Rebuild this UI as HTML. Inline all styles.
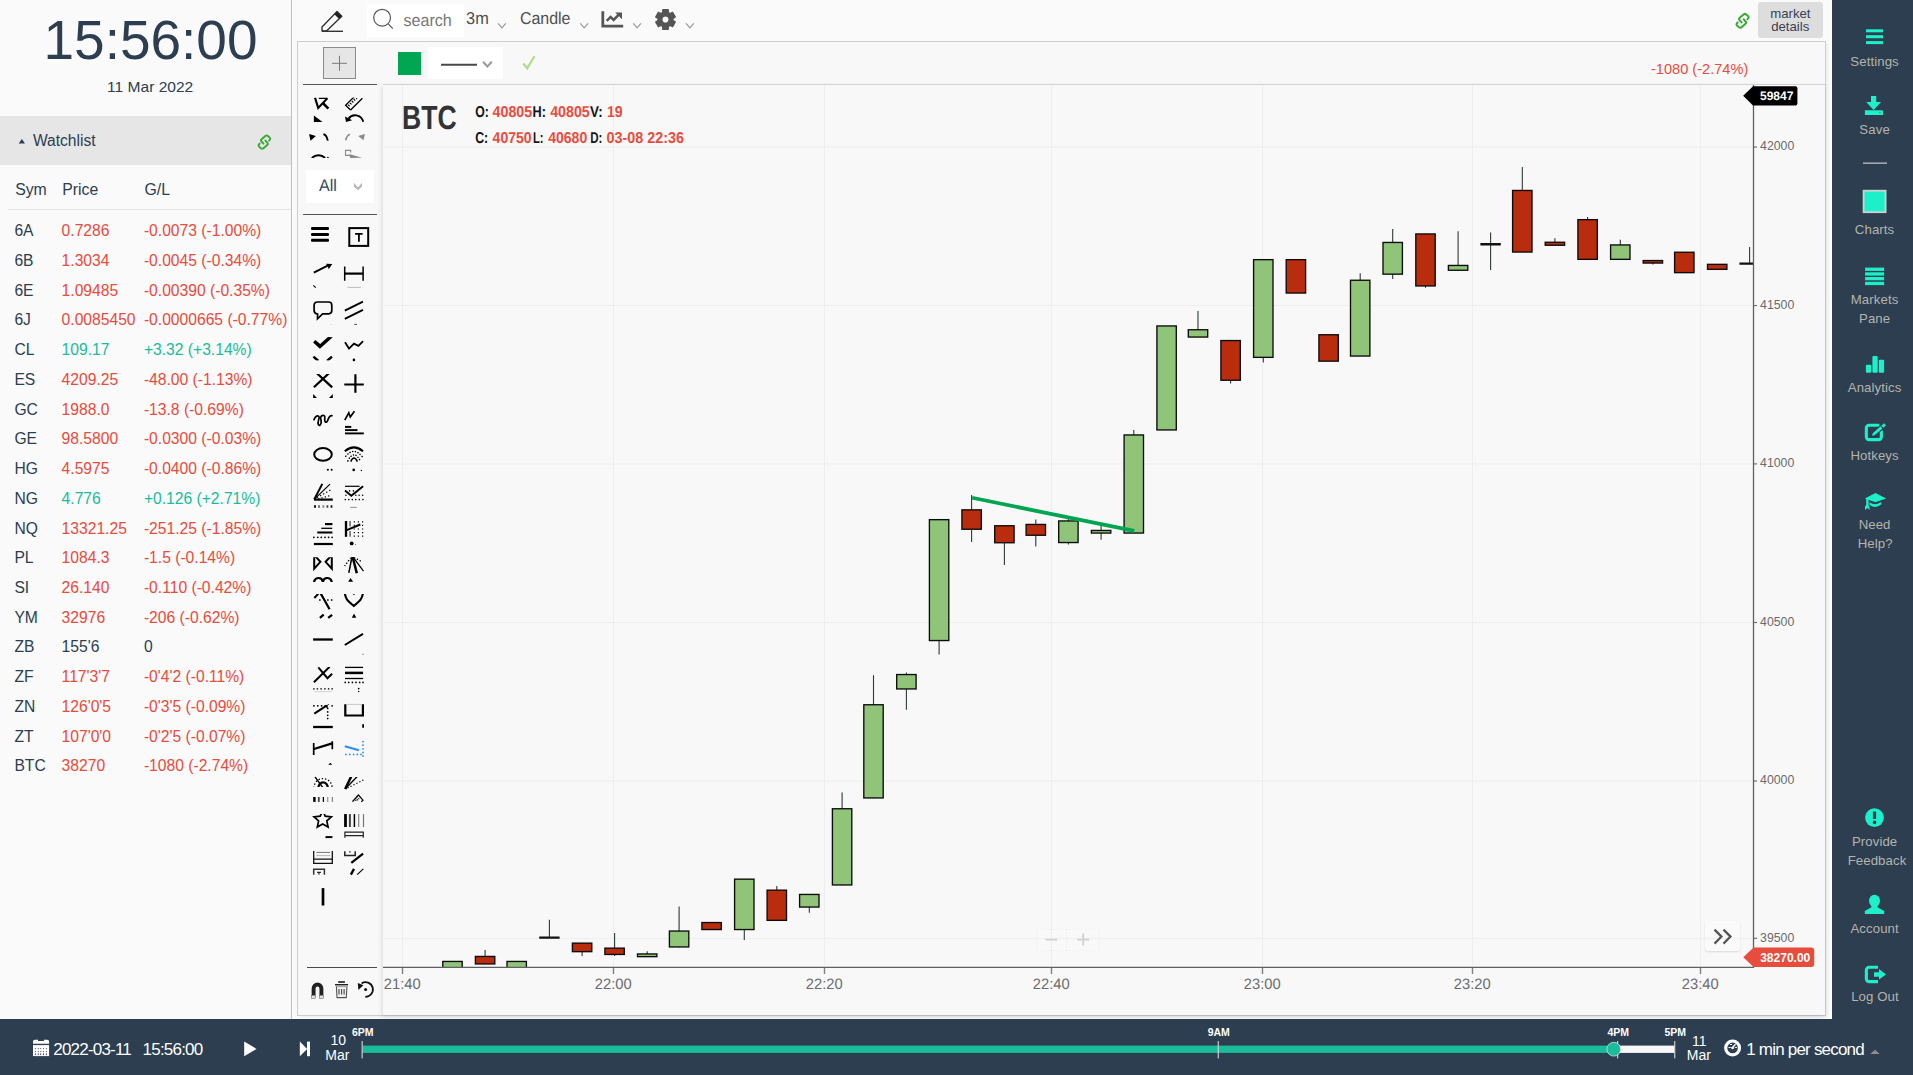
<!DOCTYPE html>
<html lang="en"><head><meta charset="utf-8"><title>Chart</title>
<style>
html,body{margin:0;padding:0;}
body{width:1913px;height:1075px;overflow:hidden;position:relative;background:#fafafa;font-family:"Liberation Sans", sans-serif;}
div{box-sizing:border-box;}
svg{position:absolute;left:0;top:0;}
</style></head><body>
<div style="position:absolute;left:0px;top:0px;width:291px;height:1019px;background:#fafafa;"></div>
<div style="position:absolute;left:291px;top:0px;width:1px;height:1019px;background:#c0c0c0;"></div>
<div style="position:absolute;left:0px;top:116px;width:291px;height:49px;background:#e6e6e6;"></div>
<div style="position:absolute;left:8px;top:209px;width:283px;height:1px;background:#e4e4e4;"></div>
<div style="position:absolute;left:367px;top:4px;width:97px;height:33px;background:#ffffff;"></div>
<div style="position:absolute;left:1758px;top:2px;width:65px;height:36px;background:#dddddd;border-radius:3px;"></div>
<div style="position:absolute;left:1830px;top:0px;width:2px;height:1019px;background:#ffffff;"></div>
<div style="position:absolute;left:292px;top:1017px;width:1540px;height:2px;background:#ffffff;"></div>
<div style="position:absolute;left:297px;top:41px;width:1529px;height:975px;background:#f8f8f8;border:1px solid #cdcdcd;box-shadow:2px 2px 3px rgba(0,0,0,0.05);"></div>
<div style="position:absolute;left:383px;top:84px;width:1442px;height:931px;background:#f8f8f8;box-shadow:-1px 2px 5px rgba(0,0,0,0.12);"></div>
<div style="position:absolute;left:383px;top:84px;width:1442px;height:1px;background:#d2d2d2;"></div>
<div style="position:absolute;left:323px;top:47px;width:33px;height:32px;background:#e6e6e6;border:1px solid #8a8a8a;"></div>
<div style="position:absolute;left:303px;top:84px;width:74px;height:1px;background:#555;"></div>
<div style="position:absolute;left:398px;top:52px;width:23px;height:23px;background:#00a651;"></div>
<div style="position:absolute;left:428px;top:47px;width:75px;height:32px;background:#ffffff;"></div>
<div style="position:absolute;left:1704.5px;top:920.5px;width:35.5px;height:30.5px;background:#fafafa;border-radius:3px;box-shadow:0 1px 2px rgba(0,0,0,0.12);"></div>
<div style="position:absolute;left:1036.5px;top:929px;width:62px;height:22px;background:rgba(250,250,250,0.7);border:1px solid #f4f4f4;"></div>
<div style="position:absolute;left:306px;top:170px;width:68px;height:33px;background:#ffffff;"></div>
<div style="position:absolute;left:303px;top:214px;width:74px;height:1px;background:#555;"></div>
<div style="position:absolute;left:307px;top:967px;width:70px;height:1px;background:#4a4a4a;"></div>
<div style="position:absolute;left:1832px;top:0px;width:81px;height:1075px;background:#2c3e50;"></div>
<div style="position:absolute;left:0px;top:1019px;width:1913px;height:56px;background:#2c3e50;"></div>
<svg width="1913" height="1075" viewBox="0 0 1913 1075" font-family='"Liberation Sans", sans-serif' text-rendering="geometricPrecision">
<path d="M18.7 143.6 L21.85 138.9 L25 143.6 Z" fill="#2c3e50"/>
<g transform="translate(264.4 142.1) scale(0.96)" fill="none" stroke="#3aaa35" stroke-width="2.0" stroke-linecap="round" stroke-linejoin="round"><path d="M4.90 -1.60 L5.80 -2.70 Q6.70 -3.80 5.40 -4.89 L3.60 -6.41 Q2.30 -7.50 1.01 -6.39 L-2.91 -3.01 Q-4.20 -1.90 -3.05 -0.65 L-1.00 1.60"/><path d="M-4.90 1.60 L-5.80 2.70 Q-6.70 3.80 -5.40 4.89 L-3.60 6.41 Q-2.30 7.50 -1.01 6.39 L2.91 3.01 Q4.20 1.90 3.05 0.65 L1.00 -1.60"/></g>
<g fill="none" stroke="#333" stroke-width="1.4" stroke-linejoin="round"><path d="M322 31 L322 27 L337 11.5 L341.8 16.3 L326.5 31 Z"/><path d="M322 31.3 H343" /></g><path d="M334.3 14.2 L337 11.5 L341.8 16.3 L339.1 19 Z" fill="#222"/>
<g fill="none" stroke="#555" stroke-width="1.2"><circle cx="382.1" cy="17.7" r="8.4"/><path d="M388.2 23.9 L392.8 28.6"/></g>
<text x="403.4" y="25.9" font-size="17" fill="#787878" textLength="48.4" lengthAdjust="spacingAndGlyphs">search</text>
<text x="466.1" y="24" font-size="17.1" fill="#4f4f4f" textLength="22.7" lengthAdjust="spacingAndGlyphs">3m</text>
<path d="M498 23.4 L501.9 27.799999999999997 L505.8 23.4" fill="none" stroke="#999" stroke-width="1.2"/>
<text x="519.9" y="24" font-size="17.1" fill="#4f4f4f" textLength="50.6" lengthAdjust="spacingAndGlyphs">Candle</text>
<path d="M580.3 23.4 L584.1999999999999 27.799999999999997 L588.0999999999999 23.4" fill="none" stroke="#999" stroke-width="1.2"/>
<g fill="none" stroke="#555"><path d="M602.8 11.3 V26.2 H623.2" stroke-width="2.8"/><path d="M606.7 20.8 L610.6 16.9 L613.6 19.9 L619.3 14.2" stroke-width="2.5"/></g><path d="M615.2 12.4 H622 V19.2 Z" fill="#555"/>
<path d="M633.2 23.4 L637.1 27.799999999999997 L641.0 23.4" fill="none" stroke="#999" stroke-width="1.2"/>
<path d="M662.54 12.50 L662.78 9.67 L668.22 9.67 L668.46 12.50 L670.08 13.44 L672.65 12.23 L675.37 16.94 L673.04 18.56 L673.04 20.44 L675.37 22.06 L672.65 26.77 L670.08 25.56 L668.46 26.50 L668.22 29.33 L662.78 29.33 L662.54 26.50 L660.92 25.56 L658.35 26.77 L655.63 22.06 L657.96 20.44 L657.96 18.56 L655.63 16.94 L658.35 12.23 L660.92 13.44 Z M669.1 19.5 A3.6 3.6 0 1 0 661.9 19.5 A3.6 3.6 0 1 0 669.1 19.5 Z" fill="#555" fill-rule="evenodd" stroke="#555" stroke-width="1.2" stroke-linejoin="round"/>
<path d="M686 23.4 L689.9 27.799999999999997 L693.8 23.4" fill="none" stroke="#999" stroke-width="1.2"/>
<g transform="translate(1742.6 20.8) scale(1.0)" fill="none" stroke="#3aaa35" stroke-width="2.0" stroke-linecap="round" stroke-linejoin="round"><path d="M4.90 -1.60 L5.80 -2.70 Q6.70 -3.80 5.40 -4.89 L3.60 -6.41 Q2.30 -7.50 1.01 -6.39 L-2.91 -3.01 Q-4.20 -1.90 -3.05 -0.65 L-1.00 1.60"/><path d="M-4.90 1.60 L-5.80 2.70 Q-6.70 3.80 -5.40 4.89 L-3.60 6.41 Q-2.30 7.50 -1.01 6.39 L2.91 3.01 Q4.20 1.90 3.05 0.65 L1.00 -1.60"/></g>
<path d="M339.5 55.8 V70.8 M332 63.3 H347" stroke="#7a7a7a" stroke-width="1" fill="none"/>
<path d="M441 64.8 H477" stroke="#484848" stroke-width="2.1"/>
<path d="M483 61.7 L487.4 66.5 L491.8 61.7" fill="none" stroke="#999" stroke-width="2.0"/>
<path d="M523.3 63.5 L527.2 68.3 L534.4 56.2" fill="none" stroke="#b0dd8b" stroke-width="2.2"/>
<g stroke="#eeeeee" stroke-width="1"><path d="M402.5 85 V967" shape-rendering="crispEdges"/><path d="M613.5 85 V967" shape-rendering="crispEdges"/><path d="M824.5 85 V967" shape-rendering="crispEdges"/><path d="M1051.5 85 V967" shape-rendering="crispEdges"/><path d="M1262.5 85 V967" shape-rendering="crispEdges"/><path d="M1472.5 85 V967" shape-rendering="crispEdges"/><path d="M1700.5 85 V967" shape-rendering="crispEdges"/><path d="M383 147.05 H1753"/><path d="M383 305.55 H1753"/><path d="M383 463.9 H1753"/><path d="M383 622.5 H1753"/><path d="M383 781.0 H1753"/><path d="M383 938.35 H1753"/></g>
<defs><clipPath id="plot"><rect x="383" y="85" width="1370.5" height="882.5"/></clipPath></defs><g clip-path="url(#plot)"><rect x="442.80" y="961.45" width="19.4" height="8.30" fill="#8fc479" stroke="#0c0c0c" stroke-width="1.35"/><path d="M485.1 949.9 V964.2" stroke="#2e3a33" stroke-width="1.1"/><rect x="475.40" y="956.45" width="19.4" height="7.50" fill="#b92c0e" stroke="#0c0c0c" stroke-width="1.35"/><rect x="507.00" y="961.45" width="19.4" height="8.30" fill="#8fc479" stroke="#0c0c0c" stroke-width="1.35"/><path d="M549.4 919.8 V937.6" stroke="#2e3a33" stroke-width="1.1"/><path d="M539.2 937.6 H559.6" stroke="#111" stroke-width="2.4"/><path d="M582.1 942.9 V955.9" stroke="#2e3a33" stroke-width="1.1"/><rect x="572.40" y="943.15" width="19.4" height="8.50" fill="#b92c0e" stroke="#0c0c0c" stroke-width="1.35"/><path d="M614.6 933.1 V956.0" stroke="#2e3a33" stroke-width="1.1"/><rect x="604.90" y="948.15" width="19.4" height="6.30" fill="#b92c0e" stroke="#0c0c0c" stroke-width="1.35"/><path d="M647.2 951.2 V956.9" stroke="#2e3a33" stroke-width="1.1"/><rect x="637.50" y="953.95" width="19.4" height="2.70" fill="#8fc479" stroke="#0c0c0c" stroke-width="1.35"/><path d="M679.1 906.5 V947.2" stroke="#2e3a33" stroke-width="1.1"/><rect x="669.40" y="931.05" width="19.4" height="15.90" fill="#8fc479" stroke="#0c0c0c" stroke-width="1.35"/><rect x="701.90" y="922.55" width="19.4" height="7.00" fill="#b92c0e" stroke="#0c0c0c" stroke-width="1.35"/><path d="M744.3 878.9 V939.9" stroke="#2e3a33" stroke-width="1.1"/><rect x="734.60" y="879.15" width="19.4" height="50.40" fill="#8fc479" stroke="#0c0c0c" stroke-width="1.35"/><path d="M776.8 885.9 V920.6" stroke="#2e3a33" stroke-width="1.1"/><rect x="767.10" y="890.15" width="19.4" height="30.20" fill="#b92c0e" stroke="#0c0c0c" stroke-width="1.35"/><path d="M809.3 894.2 V912.8" stroke="#2e3a33" stroke-width="1.1"/><rect x="799.60" y="894.45" width="19.4" height="12.60" fill="#8fc479" stroke="#0c0c0c" stroke-width="1.35"/><path d="M842.1 792.5 V885.2" stroke="#2e3a33" stroke-width="1.1"/><rect x="832.40" y="808.75" width="19.4" height="76.20" fill="#8fc479" stroke="#0c0c0c" stroke-width="1.35"/><path d="M873.5 675.2 V798.2" stroke="#2e3a33" stroke-width="1.1"/><rect x="863.80" y="704.75" width="19.4" height="93.20" fill="#8fc479" stroke="#0c0c0c" stroke-width="1.35"/><path d="M906.4 672.6 V709.8" stroke="#2e3a33" stroke-width="1.1"/><rect x="896.70" y="674.55" width="19.4" height="14.40" fill="#8fc479" stroke="#0c0c0c" stroke-width="1.35"/><path d="M939.1 519.4 V654.6" stroke="#2e3a33" stroke-width="1.1"/><rect x="929.40" y="519.65" width="19.4" height="120.90" fill="#8fc479" stroke="#0c0c0c" stroke-width="1.35"/><path d="M971.6 495.1 V542.0" stroke="#2e3a33" stroke-width="1.1"/><rect x="961.90" y="509.85" width="19.4" height="19.40" fill="#b92c0e" stroke="#0c0c0c" stroke-width="1.35"/><path d="M1004.4 525.5 V564.9" stroke="#2e3a33" stroke-width="1.1"/><rect x="994.70" y="525.75" width="19.4" height="17.00" fill="#b92c0e" stroke="#0c0c0c" stroke-width="1.35"/><path d="M1035.8 519.4 V546.6" stroke="#2e3a33" stroke-width="1.1"/><rect x="1026.10" y="524.45" width="19.4" height="10.80" fill="#b92c0e" stroke="#0c0c0c" stroke-width="1.35"/><path d="M1068.4 515.9 V544.6" stroke="#2e3a33" stroke-width="1.1"/><rect x="1058.70" y="520.95" width="19.4" height="21.60" fill="#8fc479" stroke="#0c0c0c" stroke-width="1.35"/><path d="M1101.1 525.2 V539.8" stroke="#2e3a33" stroke-width="1.1"/><rect x="1091.40" y="530.45" width="19.4" height="2.60" fill="#8fc479" stroke="#0c0c0c" stroke-width="1.35"/><path d="M1133.8 430.0 V533.3" stroke="#2e3a33" stroke-width="1.1"/><rect x="1124.10" y="434.95" width="19.4" height="98.10" fill="#8fc479" stroke="#0c0c0c" stroke-width="1.35"/><rect x="1156.90" y="325.95" width="19.4" height="104.00" fill="#8fc479" stroke="#0c0c0c" stroke-width="1.35"/><path d="M1198.0 311.1 V337.3" stroke="#2e3a33" stroke-width="1.1"/><rect x="1188.30" y="329.75" width="19.4" height="7.30" fill="#8fc479" stroke="#0c0c0c" stroke-width="1.35"/><path d="M1230.6 340.3 V383.5" stroke="#2e3a33" stroke-width="1.1"/><rect x="1220.90" y="340.55" width="19.4" height="39.70" fill="#b92c0e" stroke="#0c0c0c" stroke-width="1.35"/><path d="M1263.3 259.4 V362.6" stroke="#2e3a33" stroke-width="1.1"/><rect x="1253.60" y="259.65" width="19.4" height="97.70" fill="#8fc479" stroke="#0c0c0c" stroke-width="1.35"/><rect x="1286.20" y="259.65" width="19.4" height="33.40" fill="#b92c0e" stroke="#0c0c0c" stroke-width="1.35"/><rect x="1318.90" y="334.75" width="19.4" height="26.40" fill="#b92c0e" stroke="#0c0c0c" stroke-width="1.35"/><path d="M1360.2 273.2 V356.3" stroke="#2e3a33" stroke-width="1.1"/><rect x="1350.50" y="280.25" width="19.4" height="75.80" fill="#8fc479" stroke="#0c0c0c" stroke-width="1.35"/><path d="M1392.7 228.9 V278.9" stroke="#2e3a33" stroke-width="1.1"/><rect x="1383.00" y="242.45" width="19.4" height="31.70" fill="#8fc479" stroke="#0c0c0c" stroke-width="1.35"/><path d="M1425.5 233.7 V287.8" stroke="#2e3a33" stroke-width="1.1"/><rect x="1415.80" y="233.95" width="19.4" height="52.00" fill="#b92c0e" stroke="#0c0c0c" stroke-width="1.35"/><path d="M1458.1 231.2 V270.5" stroke="#2e3a33" stroke-width="1.1"/><rect x="1448.40" y="265.45" width="19.4" height="4.80" fill="#8fc479" stroke="#0c0c0c" stroke-width="1.35"/><path d="M1490.6 232.4 V269.9" stroke="#2e3a33" stroke-width="1.1"/><path d="M1480.4 244.2 H1500.8" stroke="#111" stroke-width="2.4"/><path d="M1522.3 166.9 V252.3" stroke="#2e3a33" stroke-width="1.1"/><rect x="1512.60" y="190.45" width="19.4" height="61.60" fill="#b92c0e" stroke="#0c0c0c" stroke-width="1.35"/><path d="M1554.9 238.3 V245.5" stroke="#2e3a33" stroke-width="1.1"/><rect x="1545.20" y="242.25" width="19.4" height="3.00" fill="#b92c0e" stroke="#0c0c0c" stroke-width="1.35"/><path d="M1587.6 216.9 V259.6" stroke="#2e3a33" stroke-width="1.1"/><rect x="1577.90" y="219.65" width="19.4" height="39.70" fill="#b92c0e" stroke="#0c0c0c" stroke-width="1.35"/><path d="M1620.3 239.7 V259.6" stroke="#2e3a33" stroke-width="1.1"/><rect x="1610.60" y="244.95" width="19.4" height="14.40" fill="#8fc479" stroke="#0c0c0c" stroke-width="1.35"/><path d="M1652.9 260.3 V264.6" stroke="#2e3a33" stroke-width="1.1"/><rect x="1643.20" y="260.55" width="19.4" height="2.50" fill="#b92c0e" stroke="#0c0c0c" stroke-width="1.35"/><rect x="1674.60" y="252.25" width="19.4" height="20.40" fill="#b92c0e" stroke="#0c0c0c" stroke-width="1.35"/><rect x="1707.50" y="264.35" width="19.4" height="5.00" fill="#b92c0e" stroke="#0c0c0c" stroke-width="1.35"/><path d="M1749.6 247.0 V263.6" stroke="#2e3a33" stroke-width="1.1"/><path d="M1739.4 263.6 H1759.8" stroke="#111" stroke-width="2.4"/></g>
<path d="M972.1 497.8 L1134.3 530.85" stroke="#00a551" stroke-width="3.7" fill="none"/>
<g stroke="#606060" stroke-width="1.3" fill="none"><path d="M383 967.4 H1753.5"/><path d="M1753.5 85 V968"/></g><g stroke="#808080" stroke-width="1.4" fill="none"><path d="M402.5 968 V974"/><path d="M613.5 968 V974"/><path d="M824.5 968 V974"/><path d="M1051.5 968 V974"/><path d="M1262.5 968 V974"/><path d="M1472.5 968 V974"/><path d="M1700.5 968 V974"/></g><g stroke="#707070" stroke-width="1.2" fill="none"><path d="M1754 147.05 H1757"/><path d="M1754 305.55 H1757"/><path d="M1754 463.9 H1757"/><path d="M1754 622.5 H1757"/><path d="M1754 781.0 H1757"/><path d="M1754 938.35 H1757"/></g>
<text x="383.8" y="988.9" font-size="15.1" fill="#6c6c6c" textLength="36.9" lengthAdjust="spacingAndGlyphs">21:40</text>
<text x="594.8" y="988.9" font-size="15.1" fill="#6c6c6c" textLength="36.9" lengthAdjust="spacingAndGlyphs">22:00</text>
<text x="805.8" y="988.9" font-size="15.1" fill="#6c6c6c" textLength="36.9" lengthAdjust="spacingAndGlyphs">22:20</text>
<text x="1032.8" y="988.9" font-size="15.1" fill="#6c6c6c" textLength="36.9" lengthAdjust="spacingAndGlyphs">22:40</text>
<text x="1243.8" y="988.9" font-size="15.1" fill="#6c6c6c" textLength="36.9" lengthAdjust="spacingAndGlyphs">23:00</text>
<text x="1453.8" y="988.9" font-size="15.1" fill="#6c6c6c" textLength="36.9" lengthAdjust="spacingAndGlyphs">23:20</text>
<text x="1681.8" y="988.9" font-size="15.1" fill="#6c6c6c" textLength="36.9" lengthAdjust="spacingAndGlyphs">23:40</text>
<path d="M1743.2 95.7 L1753 86.2 H1795.4 a2 2 0 0 1 2 2 V103.4 a2 2 0 0 1 -2 2 H1753 Z" fill="#000"/>
<text x="1760" y="100.2" font-size="12.2" font-weight="bold" fill="#fff" textLength="33.4" lengthAdjust="spacingAndGlyphs">59847</text>
<path d="M1743.3 957.2 L1753.6 947.5 H1811.2 a3 3 0 0 1 3 3 V963.9 a3 3 0 0 1 -3 3 H1753.6 Z" fill="#e74c3c"/>
<path d="M1714.5 929.6 L1721.5 936.6 L1714.5 943.6 M1723.5 929.6 L1730.5 936.6 L1723.5 943.6" fill="none" stroke="#555" stroke-width="2.2"/>
<path d="M1045.4 939.6 H1057.3 M1077.2 939.6 H1089.3 M1083.2 933.6 V945.6" stroke="#d2d2d2" stroke-width="1.9" fill="none"/><path d="M1066.5 930 V950" stroke="#f3f3f3" stroke-width="1"/>
<text x="402.0" y="128.5" font-size="33.5" font-weight="bold" fill="#333" textLength="54.6" lengthAdjust="spacingAndGlyphs">BTC</text>
<text x="475.2" y="116.6" font-size="15.8" font-weight="bold" fill="#151515" textLength="13.6" lengthAdjust="spacingAndGlyphs">O:</text>
<text x="492.6" y="116.6" font-size="15.8" font-weight="bold" fill="#e74c3c" textLength="39.6" lengthAdjust="spacingAndGlyphs">40805</text>
<text x="532.6" y="116.6" font-size="15.8" font-weight="bold" fill="#151515" textLength="13.4" lengthAdjust="spacingAndGlyphs">H:</text>
<text x="550.2" y="116.6" font-size="15.8" font-weight="bold" fill="#e74c3c" textLength="39.6" lengthAdjust="spacingAndGlyphs">40805</text>
<text x="590.1" y="116.6" font-size="15.8" font-weight="bold" fill="#151515" textLength="12.7" lengthAdjust="spacingAndGlyphs">V:</text>
<text x="607.0" y="116.6" font-size="15.8" font-weight="bold" fill="#e74c3c" textLength="15.7" lengthAdjust="spacingAndGlyphs">19</text>
<text x="475.2" y="142.8" font-size="15.8" font-weight="bold" fill="#151515" textLength="13.0" lengthAdjust="spacingAndGlyphs">C:</text>
<text x="492.6" y="142.8" font-size="15.8" font-weight="bold" fill="#e74c3c" textLength="39.0" lengthAdjust="spacingAndGlyphs">40750</text>
<text x="532.9" y="142.8" font-size="15.8" font-weight="bold" fill="#151515" textLength="10.5" lengthAdjust="spacingAndGlyphs">L:</text>
<text x="548.2" y="142.8" font-size="15.8" font-weight="bold" fill="#e74c3c" textLength="39.0" lengthAdjust="spacingAndGlyphs">40680</text>
<text x="590.2" y="142.8" font-size="15.8" font-weight="bold" fill="#151515" textLength="12.2" lengthAdjust="spacingAndGlyphs">D:</text>
<text x="606.6" y="142.8" font-size="15.8" font-weight="bold" fill="#e74c3c" textLength="77.4" lengthAdjust="spacingAndGlyphs">03-08 22:36</text>
<text x="318.9" y="190.9" font-size="16.8" fill="#34495e" textLength="17.9" lengthAdjust="spacingAndGlyphs">All</text>
<path d="M353.9 182.8 L358 187.6 L362 182.8 V186.5 L358 190.2 L353.9 186.5 Z" fill="#b4b4b4"/>
<defs><clipPath id="tsc"><rect x="300" y="97.6" width="80" height="60.3"/></clipPath></defs><g clip-path="url(#tsc)">
<path d="M315 97.6 L318.2 108 L327.3 98.4" fill="none" stroke="#000" stroke-width="2.1" />
<path d="M318.8 98.3 H327.6" fill="none" stroke="#000" stroke-width="1.5" />
<path d="M322.8 103 L328.4 108.6" fill="none" stroke="#000" stroke-width="2.5" />
<path d="M350.6 110 L362.4 98.3 M350.6 110 L345.6 105.2 L354.2 96.8" fill="none" stroke="#000" stroke-width="1.3" />
<path d="M348 104.6 L349.6 106.2 M349.9 102.8 L351.5 104.4 M351.8 100.9 L353.4 102.5 M353.7 99 L355.3 100.6" fill="none" stroke="#000" stroke-width="1.1" />
<circle cx="356.6" cy="98.6" r="0.7" fill="#000"/>
<path d="M313.9 115.6 V121.9 H322.5 Z" fill="#000"/>
<path d="M363.3 121.8 C361 114.5 352.5 113.2 348.6 118.6" fill="none" stroke="#000" stroke-width="1.9" />
<path d="M345 116.6 L346 122 L352.2 120.2 Z" fill="#000"/>
<path d="M309.1 134 L315.9 136.1 L310.5 140.8 Z" fill="#000"/>
<path d="M323.4 134.3 C326 134.6 327 137 327.8 140.6" fill="none" stroke="#000" stroke-width="1.9" />
<path d="M349.9 134.3 C347.3 135.2 346.3 137.6 345.7 140.3" fill="none" stroke="#8a8a8a" stroke-width="1.7" />
<path d="M358.2 136.1 L364.9 134 L363.5 140.2 Z" fill="#8a8a8a"/>
<path d="M311.9 158 C315.5 154.4 321.5 154.4 325.1 158" fill="none" stroke="#000" stroke-width="2.1" />
<circle cx="327.9" cy="157.6" r="0.8" fill="#000"/>
<path d="M349.8 155.4 H345.5 V150.4 H350.7 V152.6" fill="none" stroke="#8a8a8a" stroke-width="1.1" />
<path d="M349.2 153.9 L362.1 157.8 L350.2 157.9 Z" fill="#8a8a8a"/>
</g>
<rect x="311" y="226.9" width="18" height="3" rx="1.2" fill="#000"/>
<rect x="311" y="232.9" width="18" height="3" rx="1.2" fill="#000"/>
<rect x="311" y="238.8" width="18" height="3" rx="1.2" fill="#000"/>
<rect x="349.3" y="228.1" width="18.9" height="17.8" fill="none" stroke="#000" stroke-width="2"/>
<path d="M355.1 232.9 H362.6 V234.7 H359.8 V241.7 H358 V234.7 H355.1 Z" fill="#000"/>
<path d="M313.8 272.6 L328.2 265.3" fill="none" stroke="#000" stroke-width="2" />
<path d="M326 263.8 L332.3 264.1 L328.7 269.2 L327.9 266.6 Z" fill="#000"/>
<path d="M313.3 285.4 L315.8 287.6" fill="none" stroke="#000" stroke-width="1.2" />
<path d="M344.7 266.5 V280.8 M363.1 266.5 V280.8" fill="none" stroke="#000" stroke-width="1.5" />
<path d="M344.7 273.6 H363.1" fill="none" stroke="#000" stroke-width="2.2" />
<path d="M347.4 287.4 H360.7" fill="none" stroke="#b5b5b5" stroke-width="0.9" />
<path d="M317.6 314 C315 313.6 314.1 312 314.1 310.4 V305.2 a3.2 3.2 0 0 1 3.2 -3.2 H328.6 a3.2 3.2 0 0 1 3.2 3.2 V310.6 a3.2 3.2 0 0 1 -3.2 3.2 H322.6 L317.5 318.8 Z" fill="none" stroke="#000" stroke-width="1.7" stroke-linejoin="miter"/>
<path d="M344.8 310.6 L363 301.6 M344.8 318.8 L363 309.8" fill="none" stroke="#000" stroke-width="1.9" />
<path d="M354.3 324.4 H357" fill="none" stroke="#333" stroke-width="0.9" />
<circle cx="331.4" cy="324.4" r="0.5" fill="#bbb"/>
<path d="M315.3 339.9 L320.2 344 L327.9 337.1 L332.8 337.3 L319.9 348.7 L313.1 342.4 Z" fill="#000"/>
<path d="M313.4 356.6 L318.4 361 M332 356.6 L327 361" fill="none" stroke="#000" stroke-width="2.4" />
<rect x="310" y="360.4" width="26" height="3" fill="#fafafa"/>
<path d="M345 342.2 L349 348.6 L354 343.7 L358.4 345.8 L363.1 341.2" fill="none" stroke="#000" stroke-width="1.8" />
<circle cx="353.9" cy="359.9" r="1.3" fill="#000"/>
<defs><clipPath id="cx1"><rect x="310" y="374.1" width="26" height="16"/></clipPath></defs>
<path d="M316 372.4 L332.2 387.4 M329.8 372.4 L313.9 387.2" fill="none" stroke="#000" stroke-width="2.2" clip-path="url(#cx1)"/>
<path d="M313.1 394 V397.9 H317 Z" fill="#000"/>
<path d="M332.8 394 V397.9 H329 Z" fill="#000"/>
<path d="M355.4 374.2 V392.7 M344.3 384.5 H363.8" fill="none" stroke="#000" stroke-width="2.2" />
<path d="M313.8 420.4 C314.6 417 316.8 415.4 318.6 416.2 C320.4 417 317.2 421.6 318.2 424.2 C319.2 426.6 321.2 424.6 321.2 422 C321.2 419.4 319.6 417.6 321.4 416 C323.2 414.6 325.2 415.6 324.8 418 C324.4 420.6 325 422.6 326.4 422.2 C328 421.6 328.2 417.4 330 416.2 C331 415.6 332 415.6 332.6 415.9" fill="none" stroke="#000" stroke-width="1.7" />
<path d="M344.8 420.1 L348.8 412.8 L350.3 417 L354.4 411.2" fill="none" stroke="#000" stroke-width="1.7" />
<path d="M345 426.9 H351.3" fill="none" stroke="#000" stroke-width="2" />
<path d="M345 430.1 H357.5" fill="none" stroke="#000" stroke-width="1.9" />
<path d="M345 433.4 H363.8" fill="none" stroke="#000" stroke-width="1.9" />
<ellipse cx="323" cy="454.4" rx="8.8" ry="6.3" fill="none" stroke="#000" stroke-width="2"/>
<circle cx="327.9" cy="469.7" r="1.0" fill="#000"/><circle cx="331.7" cy="469.7" r="1.0" fill="#000"/>
<path d="M344.8 451.2 Q354 443.6 363 451.2" fill="none" stroke="#000" stroke-width="2.1" />
<path d="M345.4 456.8 Q354 445.8 362.6 457.2" fill="none" stroke="#000" stroke-width="1.3" stroke-dasharray="1.4 1.4"/>
<path d="M347.5 461.6 Q354 448 360.6 461.6" fill="none" stroke="#000" stroke-width="1.3" stroke-dasharray="1.4 1.4"/>
<path d="M350.7 461.6 Q354 454.6 357.4 461.6" fill="none" stroke="#000" stroke-width="1.5" />
<circle cx="353.7" cy="469.9" r="1.3" fill="#000"/>
<circle cx="361.4" cy="470.5" r="0.7" fill="#000"/>
<path d="M314 499.6 H332.8" fill="none" stroke="#000" stroke-width="2.2" />
<path d="M314.2 499.4 L322.3 483.9" fill="none" stroke="#000" stroke-width="2.0" />
<path d="M315 498.6 L330 484.1" fill="none" stroke="#000" stroke-width="1.2" />
<path d="M317 497.6 L331.7 489.4" fill="none" stroke="#000" stroke-width="1.2" stroke-dasharray="1.3 2.2"/>
<path d="M318 499 L330.7 495.4" fill="none" stroke="#000" stroke-width="1.2" stroke-dasharray="1.3 2.2"/>
<rect x="314.1" y="505.2" width="1.8" height="2.6" fill="#000" opacity="1"/>
<rect x="318.1" y="505.2" width="1.8" height="2.6" fill="#000" opacity="0.6"/>
<rect x="322.5" y="505.2" width="1.8" height="2.6" fill="#000" opacity="0.45"/>
<rect x="326.5" y="505.2" width="1.8" height="2.6" fill="#000" opacity="0.7"/>
<rect x="330.6" y="505.2" width="1.8" height="2.6" fill="#000" opacity="0.9"/>
<path d="M345 486.3 H359.6" fill="none" stroke="#000" stroke-width="1.2" />
<path d="M345 490.5 L351.3 495.7 L363.1 486.3" fill="none" stroke="#000" stroke-width="2.0" />
<circle cx="349.6" cy="490.9" r="0.8" fill="#000"/><circle cx="353.4" cy="490.9" r="0.8" fill="#000"/><circle cx="345.9" cy="495.2" r="0.8" fill="#000"/><circle cx="355.8" cy="495.2" r="0.8" fill="#000"/><circle cx="359.1" cy="495.2" r="0.8" fill="#000"/><circle cx="362.6" cy="495.2" r="0.8" fill="#000"/><circle cx="345.3" cy="499.6" r="0.8" fill="#000"/><circle cx="348.8" cy="499.6" r="0.8" fill="#000"/><circle cx="352.3" cy="499.6" r="0.8" fill="#000"/><circle cx="355.8" cy="499.6" r="0.8" fill="#000"/><circle cx="359.3" cy="499.6" r="0.8" fill="#000"/><circle cx="362.9" cy="499.6" r="0.8" fill="#000"/>
<path d="M350.2 507.4 H356.8" fill="none" stroke="#888" stroke-width="0.9" />
<path d="M325 524.1 H332.4" fill="none" stroke="#000" stroke-width="2.2" />
<path d="M321.3 528.3 H332.2" fill="none" stroke="#000" stroke-width="1.3" />
<path d="M317.3 532.5 H332.4" fill="none" stroke="#000" stroke-width="2.0" />
<circle cx="313.9" cy="537.3" r="0.9" fill="#000"/><circle cx="317.8" cy="537.3" r="0.9" fill="#000"/><circle cx="321.3" cy="537.3" r="0.9" fill="#000"/><circle cx="325" cy="537.3" r="0.9" fill="#000"/><circle cx="328.6" cy="537.3" r="0.9" fill="#000"/><circle cx="332.1" cy="537.3" r="0.9" fill="#000"/>
<path d="M313.9 544 H332.8" fill="none" stroke="#000" stroke-width="2.2" />
<path d="M346 521 V536.8" fill="none" stroke="#000" stroke-width="2.3" />
<path d="M350.1 521 V526.5 M350.1 531 V536.8" fill="none" stroke="#666" stroke-width="1.5" />
<path d="M346.7 530.1 L360.3 524.5" fill="none" stroke="#000" stroke-width="2.1" />
<path d="M354.3 521.2 V537 M358.4 521.2 V537 M362.6 521.2 V537" fill="none" stroke="#000" stroke-width="1.2" stroke-dasharray="1.2 2.4"/>
<circle cx="351.7" cy="543.4" r="1.9" fill="#000"/>
<circle cx="355.6" cy="544.4" r="0.5" fill="#555"/>
<defs><clipPath id="cx2"><rect x="310" y="557.2" width="60" height="20"/></clipPath></defs>
<path d="M314.2 555 V568.6 L320.4 561.8 L314.2 555 M331.8 555 V568.6 L325.6 561.8 L331.8 555" fill="none" stroke="#000" stroke-width="2.0" clip-path="url(#cx2)"/>
<g clip-path="url(#cx2)">
<path d="M352 556.8 L348.8 572.9" fill="none" stroke="#000" stroke-width="1.5" />
<path d="M352.6 556.8 L356.8 573.3" fill="none" stroke="#000" stroke-width="2.5" />
<path d="M353 557 L363.5 571.2" fill="none" stroke="#000" stroke-width="1.3" />
<path d="M351 557.6 L344.6 566" fill="none" stroke="#000" stroke-width="1.3" stroke-dasharray="1.4 1.8"/>
<path d="M354 557.4 L362.4 562" fill="none" stroke="#000" stroke-width="1.3" stroke-dasharray="1.4 1.8"/>
</g>
<defs><clipPath id="cx3"><rect x="310" y="576" width="60" height="5.9"/></clipPath></defs>
<path d="M313.9 583 C314.4 576.6 321.6 576.6 322.9 581.6 C324.2 576.6 331.4 576.6 331.9 583" fill="none" stroke="#000" stroke-width="2.2" clip-path="url(#cx3)"/>
<path d="M348.1 581.8 L350.6 578 L353.1 581.8 Z" fill="#000"/>
<path d="M314.3 598 L318.5 593.6" fill="none" stroke="#000" stroke-width="2.0" clip-path="url(#cx4)"/>
<defs><clipPath id="cx4"><rect x="310" y="594" width="60" height="30"/></clipPath></defs>
<path d="M320.8 593.6 L329.6 609.2" fill="none" stroke="#000" stroke-width="2.2" clip-path="url(#cx4)"/>
<circle cx="319.9" cy="600" r="0.9" fill="#222"/><circle cx="327.9" cy="600" r="0.9" fill="#222"/><circle cx="331.7" cy="600" r="0.9" fill="#222"/>
<path d="M319.9 617.8 L323.7 614.6 M328.2 617.8 L332.1 614.8" fill="none" stroke="#000" stroke-width="2.2" />
<path d="M344.9 593.6 C345.6 598.5 347 600.5 353.8 605.8 C360.6 600.5 362 598.5 362.9 593.6" fill="none" stroke="#000" stroke-width="2.1" clip-path="url(#cx4)"/>
<path d="M352.9 594.5 H354.9" fill="none" stroke="#444" stroke-width="0.9" />
<path d="M351.8 617.8 L354 613.5 L356.3 617.8 Z" fill="#000"/>
<path d="M313.1 639.5 H332.8" fill="none" stroke="#000" stroke-width="2.3" />
<path d="M344.8 645 L363 633.8" fill="none" stroke="#000" stroke-width="2.0" />
<defs><clipPath id="cx5"><rect x="310" y="667" width="60" height="30"/></clipPath></defs>
<path d="M313.9 682.2 L329.6 666.8" fill="none" stroke="#000" stroke-width="2.0" clip-path="url(#cx5)"/>
<path d="M318.3 667.4 L327.5 678.2 L332.1 673.8" fill="none" stroke="#000" stroke-width="2.0" clip-path="url(#cx5)"/>
<circle cx="313.9" cy="688.8" r="0.85" fill="#222"/><circle cx="317.4" cy="688.8" r="0.85" fill="#222"/><circle cx="321.1" cy="688.8" r="0.85" fill="#222"/><circle cx="324.9" cy="688.8" r="0.85" fill="#222"/><circle cx="328.6" cy="688.8" r="0.85" fill="#222"/><circle cx="332.1" cy="688.8" r="0.85" fill="#222"/>
<path d="M314 691.6 H332" fill="none" stroke="#ccc" stroke-width="0.8" />
<path d="M345 667.4 H363.1" fill="none" stroke="#000" stroke-width="1.3" />
<path d="M345 672.9 H363.1" fill="none" stroke="#000" stroke-width="2.5" />
<path d="M345 678.5 H363.1" fill="none" stroke="#000" stroke-width="1.3" />
<circle cx="345.2" cy="682.4" r="0.85" fill="#000"/><circle cx="348.7" cy="682.4" r="0.85" fill="#000"/><circle cx="352.4" cy="682.4" r="0.85" fill="#000"/><circle cx="356" cy="682.4" r="0.85" fill="#000"/><circle cx="359.7" cy="682.4" r="0.85" fill="#000"/><circle cx="363" cy="682.4" r="0.85" fill="#000"/>
<circle cx="358.7" cy="688.6" r="0.9" fill="#000"/>
<circle cx="358.7" cy="691.5" r="0.7" fill="#000"/>
<path d="M362 654.3 H364" fill="none" stroke="#888" stroke-width="0.8" />
<circle cx="313.9" cy="705.8" r="0.9" fill="#000"/><circle cx="317.8" cy="705.8" r="0.9" fill="#000"/><circle cx="321.6" cy="705.8" r="0.9" fill="#000"/><circle cx="332.1" cy="705.8" r="0.9" fill="#000"/>
<path d="M314.3 713.6 L326.6 705.6" fill="none" stroke="#000" stroke-width="2.0" />
<path d="M324 705 H329.6 L327.8 704 L327.6 709 Z" fill="#000"/>
<circle cx="327.7" cy="708.4" r="0.85" fill="#000"/><circle cx="327.7" cy="711.9" r="0.85" fill="#000"/><circle cx="327.7" cy="715.3" r="0.85" fill="#000"/><circle cx="327.7" cy="718.5" r="0.85" fill="#000"/>
<path d="M345.3 704.2 V715.5 H362.9 V704.2" fill="none" stroke="#000" stroke-width="2.2" />
<path d="M346.4 704.4 H361.8" fill="none" stroke="#bbb" stroke-width="0.8" />
<circle cx="327.5" cy="719.3" r="0.4" fill="#777"/>
<path d="M313.1 727 H332.8" fill="none" stroke="#000" stroke-width="2.3" />
<path d="M363.1 724.2 V727.8" fill="none" stroke="#000" stroke-width="1.8" />
<path d="M313.7 743 V754.9 M332.3 741.3 V749.3" fill="none" stroke="#000" stroke-width="1.7" />
<path d="M313.9 749 L332.2 743.4" fill="none" stroke="#000" stroke-width="2.3" />
<path d="M328.2 764.8 L330.3 762.8 L332.2 764.8 Z" fill="#000"/>
<path d="M344.8 746.2 L358.9 750.2" fill="none" stroke="#2b8cff" stroke-width="2.2" />
<circle cx="345.9" cy="754.4" r="0.9" fill="#2b8cff"/><circle cx="349.7" cy="754.4" r="0.9" fill="#2b8cff"/><circle cx="353.6" cy="754.4" r="0.9" fill="#2b8cff"/><circle cx="357.3" cy="754.4" r="0.9" fill="#2b8cff"/><circle cx="361" cy="754.4" r="0.9" fill="#2b8cff"/><circle cx="363" cy="741.7" r="0.9" fill="#2b8cff"/><circle cx="363" cy="745.2" r="0.9" fill="#2b8cff"/><circle cx="363" cy="748.8" r="0.9" fill="#2b8cff"/><circle cx="363" cy="752.5" r="0.9" fill="#2b8cff"/><circle cx="363" cy="755.9" r="0.9" fill="#2b8cff"/>
<defs><clipPath id="cx6"><rect x="310" y="776.5" width="60" height="10.6"/></clipPath><clipPath id="cx7"><rect x="340" y="777" width="30" height="13"/></clipPath></defs>
<path d="M313.9 788 A9.1 9.4 0 0 1 332.2 788" fill="none" stroke="#000" stroke-width="1.3" stroke-dasharray="1.4 1.9" clip-path="url(#cx6)"/>
<path d="M318.4 788 A4.7 5.6 0 0 1 327.8 788" fill="none" stroke="#000" stroke-width="2.2" clip-path="url(#cx6)"/>
<path d="M315 776.8 L323.2 788" fill="none" stroke="#000" stroke-width="1.4" clip-path="url(#cx6)"/>
<path d="M345.2 789 L351.2 776.5" fill="none" stroke="#000" stroke-width="2.5" clip-path="url(#cx7)"/>
<path d="M345.6 788.6 L357.2 776.6" fill="none" stroke="#000" stroke-width="1.4" clip-path="url(#cx7)"/>
<path d="M347.5 788 L363.4 780" fill="none" stroke="#000" stroke-width="1.2" stroke-dasharray="1.3 2.0" clip-path="url(#cx7)"/>
<path d="M344.4 788 L347.4 786.6 L346 789.6 Z" fill="#000"/>
<path d="M314.4 797 V801.9" fill="none" stroke="#000" stroke-width="2.5" />
<path d="M318.8 797 V801.9" fill="none" stroke="#444" stroke-width="1.8" />
<path d="M323.4 797 V801.9" fill="none" stroke="#000" stroke-width="1.3" />
<path d="M327.7 797 V801.9" fill="none" stroke="#999" stroke-width="1.3" />
<path d="M332.4 797 V801.9" fill="none" stroke="#888" stroke-width="1.3" />
<path d="M352.4 801.6 L358.4 795 L363 800.1 L361.3 801.7" fill="none" stroke="#000" stroke-width="1.2" />
<path d="M354.6 801.2 L356.1 799.6 L357.4 800.9 M356.9 798.7 L358.3 800.1 M357.8 797.6 L359.4 799.2" fill="none" stroke="#000" stroke-width="0.9" />
<defs><clipPath id="cx8"><rect x="310" y="814.1" width="30" height="16"/></clipPath></defs>
<path d="M322.7 810.4 L325.2 816.1 L331.4 816.8 L326.8 820.9 L328.1 827.0 L322.7 823.9 L317.3 827.0 L318.6 820.9 L314.0 816.8 L320.2 816.1 Z" fill="none" stroke="#000" stroke-width="1.7" clip-path="url(#cx8)" stroke-linejoin="miter"/>
<path d="M325.5 837.1 H332.4" fill="none" stroke="#000" stroke-width="2.0" />
<path d="M345.5 814.1 V827" fill="none" stroke="#000" stroke-width="2.8" />
<path d="M349.9 814.1 V827" fill="none" stroke="#444" stroke-width="2.0" />
<path d="M354.4 814.1 V827" fill="none" stroke="#000" stroke-width="1.5" />
<path d="M358.7 814.1 V827" fill="none" stroke="#888" stroke-width="1.2" />
<path d="M363.5 814.1 V827" fill="none" stroke="#777" stroke-width="1.2" />
<path d="M344.9 837.8 V832.2 H363.3 V837.8 M344.9 835.6 H363.3" fill="none" stroke="#222" stroke-width="1.2" />
<path d="M313.7 851 V863.4 H332.3 V851 M313.7 859.2 H332.3" fill="none" stroke="#111" stroke-width="1.3" />
<path d="M316.4 852.4 H330" fill="none" stroke="#666" stroke-width="0.9" />
<path d="M316.4 855.6 H330" fill="none" stroke="#aaa" stroke-width="0.9" />
<path d="M344.8 851.2 V855.4 H355.2 V851.2" fill="none" stroke="#222" stroke-width="1.5" />
<circle cx="349.9" cy="851.9" r="0.8" fill="#333"/>
<path d="M351.3 862.9 L363.1 853.6" fill="none" stroke="#000" stroke-width="2.2" />
<path d="M313.7 874.8 V869.2 H324.4 V874.8" fill="none" stroke="#333" stroke-width="1.5" />
<path d="M317.1 872.4 H320.9 M319 872.4 V874.8" fill="none" stroke="#222" stroke-width="1.1" />
<path d="M350.9 874.6 L354 868.9" fill="none" stroke="#000" stroke-width="2.3" />
<path d="M357.2 874.6 L363.3 868.9" fill="none" stroke="#000" stroke-width="1.1" />
<path d="M323 888.1 V905.5" fill="none" stroke="#000" stroke-width="2.7" />
<path d="M313.6 995.4 V988.4 a3.9 3.9 0 0 1 7.8 0 V995.4" fill="none" stroke="#222" stroke-width="3.9" />
<rect x="311.6" y="995.3" width="4" height="3" fill="#e0e0e0" stroke="#555" stroke-width="0.5"/><rect x="319.4" y="995.3" width="4" height="3" fill="#e0e0e0" stroke="#555" stroke-width="0.5"/>
<rect x="338.2" y="981.1" width="6.7" height="1.8" fill="#333"/><rect x="335" y="984" width="13.1" height="1.4" fill="#222"/><path d="M336.4 986.2 H346.9 L346.3 997.6 H337 Z" fill="#f0f0f0" stroke="#555" stroke-width="1.1"/><rect x="336.4" y="985.6" width="10.5" height="1.6" fill="#aaa"/><path d="M339 988.9 V994.4 M341.6 988.9 V994.4 M344.1 988.9 V994.4" stroke="#444" stroke-width="1.1"/>
<path d="M361.6 983.4 A7.3 7.3 0 1 1 365.3 996.8" fill="none" stroke="#111" stroke-width="1.8" />
<path d="M357.8 982.9 L358.4 989.9 L363.4 985.2 Z" fill="#111"/>
<circle cx="365.6" cy="989.5" r="1.5" fill="#111"/>
<rect x="1866" y="29.3" width="17" height="3" fill="#1df0c8"/>
<rect x="1866" y="35.2" width="17" height="3" fill="#1df0c8"/>
<rect x="1866" y="41.1" width="17" height="3" fill="#1df0c8"/>
<path d="M1871 96 H1876.2 V102 H1881.1 L1873.6 109.9 L1866.2 102 H1871 Z" fill="#1df0c8"/><path d="M1864.9 110.2 H1881.8 a1.2 1.2 0 0 1 1.2 1.2 V115 H1864.9 Z" fill="#1df0c8"/><ellipse cx="1879.9" cy="112.6" rx="0.9" ry="0.55" fill="#2f8f7e"/>
<rect x="1863" y="162.6" width="24" height="1" fill="#e8e8e8"/>
<rect x="1863.6" y="190.7" width="22" height="21.5" fill="#1df0c8" stroke="#d0d0d0" stroke-width="1.8"/>
<rect x="1865.1" y="267.6" width="19" height="3.3" fill="#1df0c8"/>
<rect x="1865.1" y="272.3" width="19" height="3.3" fill="#1df0c8"/>
<rect x="1865.1" y="277.0" width="19" height="3.3" fill="#1df0c8"/>
<rect x="1865.1" y="281.8" width="19" height="3.3" fill="#1df0c8"/>
<rect x="1865.9" y="364.7" width="5.3" height="8.1" rx="1" fill="#1df0c8"/><rect x="1872.4" y="356" width="5.3" height="16.8" rx="1" fill="#1df0c8"/><rect x="1878.8" y="359.7" width="5.3" height="13.1" rx="1" fill="#1df0c8"/>
<path d="M1879.3 425.2 H1869 a2.65 2.65 0 0 0 -2.65 2.65 V437 a2.65 2.65 0 0 0 2.65 2.65 H1878.7 a2.65 2.65 0 0 0 2.65 -2.65 V430.6" fill="none" stroke="#1df0c8" stroke-width="3.1"/><path d="M1871.4 436.2 L1885.4 424" stroke="#2c3e50" stroke-width="5.0" fill="none"/><path d="M1873.66 434.2 L1881.5 427.4 M1882.3 426.7 L1885.0 424.3" stroke="#1df0c8" stroke-width="2.8" fill="none"/><path d="M1871.9 435.8 L1872.74 433.15 L1874.58 435.25 Z" fill="#1df0c8"/>
<path d="M1864.8 498.5 L1875.5 493.1 L1886.1 498.5 Q1880 500.6 1875.5 502.3 Q1871 500.6 1864.8 498.5 Z" fill="#1df0c8"/><path d="M1869.5 502.2 Q1875.5 506.2 1881.3 502 L1881.3 504.2 Q1875.5 509.6 1869.5 504.7 Z" fill="#1df0c8"/><path d="M1866.2 498.6 H1868.6 V505 L1870.1 510 L1867.4 508.1 L1865.1 510 L1864.9 506.8 L1866.2 505 Z" fill="#1df0c8"/>
<circle cx="1874.5" cy="817.6" r="9.4" fill="#1df0c8"/><rect x="1872.9" y="811.6" width="3.2" height="7.4" rx="0.6" fill="#2c3e50"/><circle cx="1874.5" cy="822.4" r="1.8" fill="#2c3e50"/>
<ellipse cx="1874.5" cy="900.9" rx="5.5" ry="6.1" fill="#1df0c8"/><path d="M1864.8 914 V911 L1871.4 907.2 V904 H1877.6 V907.2 L1884.2 911 V914 Z" fill="#1df0c8"/>
<path d="M1878 967.25 H1869.2 a2.85 2.85 0 0 0 -2.85 2.85 V978.8 a2.85 2.85 0 0 0 2.85 2.85 H1878" fill="none" stroke="#1df0c8" stroke-width="3.1"/><path d="M1874 972.3 H1879 V968.9 L1886 974.5 L1879 979.4 V976.7 H1874 Z" fill="#1df0c8"/>
<g><path d="M33 1043.8 V1041.6 a1.8 1.8 0 0 1 1.8 -1.8 H38 V1041 H43.9 V1039.8 H47.3 a1.8 1.8 0 0 1 1.8 1.8 V1043.8 Z" fill="#fff"/><rect x="33" y="1045.1" width="16.1" height="11" fill="#fff"/><rect x="34.85" y="1048.1" width="1.1" height="1.1" fill="#5b5f8a"/><rect x="37.75" y="1048.1" width="1.1" height="1.1" fill="#5b5f8a"/><rect x="40.15" y="1048.1" width="1.1" height="1.1" fill="#5b5f8a"/><rect x="42.95" y="1048.1" width="1.1" height="1.1" fill="#5b5f8a"/><rect x="45.85" y="1048.1" width="1.1" height="1.1" fill="#5b5f8a"/><rect x="34.85" y="1051.0" width="1.1" height="1.1" fill="#5b5f8a"/><rect x="37.75" y="1051.0" width="1.1" height="1.1" fill="#5b5f8a"/><rect x="40.15" y="1051.0" width="1.1" height="1.1" fill="#5b5f8a"/><rect x="42.95" y="1051.0" width="1.1" height="1.1" fill="#5b5f8a"/><rect x="45.85" y="1051.0" width="1.1" height="1.1" fill="#5b5f8a"/><rect x="34.85" y="1053.3" width="1.1" height="1.9" fill="#5b5f8a"/><rect x="37.75" y="1053.3" width="1.1" height="1.9" fill="#5b5f8a"/><rect x="40.15" y="1053.3" width="1.1" height="1.9" fill="#5b5f8a"/><rect x="42.95" y="1053.3" width="1.1" height="1.9" fill="#5b5f8a"/><rect x="45.85" y="1053.3" width="1.1" height="1.9" fill="#5b5f8a"/></g>
<path d="M244.2 1041.6 L256.5 1048.9 L244.2 1056.2 Z" fill="#fff"/>
<path d="M299.8 1041.6 L307.2 1048.9 L299.8 1056.2 Z" fill="#fff"/><rect x="307" y="1041.6" width="3" height="14.6" fill="#fff"/>
<rect x="362.6" y="1045.6" width="1251.2" height="7.3" fill="#1abc9c"/>
<rect x="1613.8" y="1045.6" width="60.8" height="7.3" fill="#f8f8f8"/>
<rect x="361.6" y="1041" width="1.1" height="17.4" fill="#d8d8d8"/>
<rect x="1217.7" y="1041" width="1.1" height="17.4" fill="#d8d8d8"/>
<rect x="1617.1" y="1041" width="1.1" height="17.4" fill="#d8d8d8"/>
<rect x="1674.2" y="1041" width="1.1" height="17.4" fill="#d8d8d8"/>
<circle cx="1613.8" cy="1049.2" r="6.9" fill="#1abc9c" stroke="#dfeeea" stroke-width="0.7"/>
<circle cx="1732.6" cy="1047.9" r="6.9" fill="none" stroke="#fff" stroke-width="3.2"/><path d="M1731.7 1048.2 L1735.5 1044.2" stroke="#fff" stroke-width="1.4" fill="none"/><path d="M1728.4 1047.5 H1730.8 M1734.9 1047.5 H1737 M1729.9 1044.5 H1732" stroke="#fff" stroke-width="0.9" fill="none"/><ellipse cx="1732.6" cy="1048.1" rx="1.5" ry="1.1" fill="#fff"/>
<path d="M1870.3 1054 L1875 1049.7 L1879.7 1054 Z" fill="#8e8e8e"/>
</svg>
<div style="position:absolute;top:13.19px;font-size:55px;line-height:55px;color:#2c3e50;white-space:pre;left:150.50px;transform:translateX(-50%);">15:56:00</div>
<div style="position:absolute;top:79.09px;font-size:15.55px;line-height:15.55px;color:#2c3e50;white-space:pre;left:150.20px;transform:translateX(-50%);">11 Mar 2022</div>
<div style="position:absolute;top:133.24px;font-size:15.6px;line-height:15.6px;color:#2c3e50;white-space:pre;left:32.90px;">Watchlist</div>
<div style="position:absolute;top:182.18px;font-size:15.8px;line-height:15.8px;color:#2c3e50;white-space:pre;left:15.20px;">Sym</div>
<div style="position:absolute;top:182.18px;font-size:15.8px;line-height:15.8px;color:#2c3e50;white-space:pre;left:62.30px;">Price</div>
<div style="position:absolute;top:182.18px;font-size:15.8px;line-height:15.8px;color:#2c3e50;white-space:pre;left:144.50px;">G/L</div>
<div style="position:absolute;top:223.30px;font-size:15.65px;line-height:15.65px;color:#2c3e50;white-space:pre;left:14.40px;">6A</div>
<div style="position:absolute;top:223.30px;font-size:15.65px;line-height:15.65px;color:#e74c3c;white-space:pre;left:61.60px;">0.7286</div>
<div style="position:absolute;top:223.30px;font-size:15.65px;line-height:15.65px;color:#e74c3c;white-space:pre;left:143.90px;">-0.0073 (-1.00%)</div>
<div style="position:absolute;top:253.02px;font-size:15.65px;line-height:15.65px;color:#2c3e50;white-space:pre;left:14.40px;">6B</div>
<div style="position:absolute;top:253.02px;font-size:15.65px;line-height:15.65px;color:#e74c3c;white-space:pre;left:61.60px;">1.3034</div>
<div style="position:absolute;top:253.02px;font-size:15.65px;line-height:15.65px;color:#e74c3c;white-space:pre;left:143.90px;">-0.0045 (-0.34%)</div>
<div style="position:absolute;top:282.74px;font-size:15.65px;line-height:15.65px;color:#2c3e50;white-space:pre;left:14.40px;">6E</div>
<div style="position:absolute;top:282.74px;font-size:15.65px;line-height:15.65px;color:#e74c3c;white-space:pre;left:61.60px;">1.09485</div>
<div style="position:absolute;top:282.74px;font-size:15.65px;line-height:15.65px;color:#e74c3c;white-space:pre;left:143.90px;">-0.00390 (-0.35%)</div>
<div style="position:absolute;top:312.46px;font-size:15.65px;line-height:15.65px;color:#2c3e50;white-space:pre;left:14.40px;">6J</div>
<div style="position:absolute;top:312.46px;font-size:15.65px;line-height:15.65px;color:#e74c3c;white-space:pre;left:61.60px;">0.0085450</div>
<div style="position:absolute;top:312.46px;font-size:15.65px;line-height:15.65px;color:#e74c3c;white-space:pre;left:143.90px;">-0.0000665 (-0.77%)</div>
<div style="position:absolute;top:342.18px;font-size:15.65px;line-height:15.65px;color:#2c3e50;white-space:pre;left:14.40px;">CL</div>
<div style="position:absolute;top:342.18px;font-size:15.65px;line-height:15.65px;color:#1abc9c;white-space:pre;left:61.60px;">109.17</div>
<div style="position:absolute;top:342.18px;font-size:15.65px;line-height:15.65px;color:#1abc9c;white-space:pre;left:143.90px;">+3.32 (+3.14%)</div>
<div style="position:absolute;top:371.90px;font-size:15.65px;line-height:15.65px;color:#2c3e50;white-space:pre;left:14.40px;">ES</div>
<div style="position:absolute;top:371.90px;font-size:15.65px;line-height:15.65px;color:#e74c3c;white-space:pre;left:61.60px;">4209.25</div>
<div style="position:absolute;top:371.90px;font-size:15.65px;line-height:15.65px;color:#e74c3c;white-space:pre;left:143.90px;">-48.00 (-1.13%)</div>
<div style="position:absolute;top:401.62px;font-size:15.65px;line-height:15.65px;color:#2c3e50;white-space:pre;left:14.40px;">GC</div>
<div style="position:absolute;top:401.62px;font-size:15.65px;line-height:15.65px;color:#e74c3c;white-space:pre;left:61.60px;">1988.0</div>
<div style="position:absolute;top:401.62px;font-size:15.65px;line-height:15.65px;color:#e74c3c;white-space:pre;left:143.90px;">-13.8 (-0.69%)</div>
<div style="position:absolute;top:431.34px;font-size:15.65px;line-height:15.65px;color:#2c3e50;white-space:pre;left:14.40px;">GE</div>
<div style="position:absolute;top:431.34px;font-size:15.65px;line-height:15.65px;color:#e74c3c;white-space:pre;left:61.60px;">98.5800</div>
<div style="position:absolute;top:431.34px;font-size:15.65px;line-height:15.65px;color:#e74c3c;white-space:pre;left:143.90px;">-0.0300 (-0.03%)</div>
<div style="position:absolute;top:461.06px;font-size:15.65px;line-height:15.65px;color:#2c3e50;white-space:pre;left:14.40px;">HG</div>
<div style="position:absolute;top:461.06px;font-size:15.65px;line-height:15.65px;color:#e74c3c;white-space:pre;left:61.60px;">4.5975</div>
<div style="position:absolute;top:461.06px;font-size:15.65px;line-height:15.65px;color:#e74c3c;white-space:pre;left:143.90px;">-0.0400 (-0.86%)</div>
<div style="position:absolute;top:490.78px;font-size:15.65px;line-height:15.65px;color:#2c3e50;white-space:pre;left:14.40px;">NG</div>
<div style="position:absolute;top:490.78px;font-size:15.65px;line-height:15.65px;color:#1abc9c;white-space:pre;left:61.60px;">4.776</div>
<div style="position:absolute;top:490.78px;font-size:15.65px;line-height:15.65px;color:#1abc9c;white-space:pre;left:143.90px;">+0.126 (+2.71%)</div>
<div style="position:absolute;top:520.50px;font-size:15.65px;line-height:15.65px;color:#2c3e50;white-space:pre;left:14.40px;">NQ</div>
<div style="position:absolute;top:520.50px;font-size:15.65px;line-height:15.65px;color:#e74c3c;white-space:pre;left:61.60px;">13321.25</div>
<div style="position:absolute;top:520.50px;font-size:15.65px;line-height:15.65px;color:#e74c3c;white-space:pre;left:143.90px;">-251.25 (-1.85%)</div>
<div style="position:absolute;top:550.22px;font-size:15.65px;line-height:15.65px;color:#2c3e50;white-space:pre;left:14.40px;">PL</div>
<div style="position:absolute;top:550.22px;font-size:15.65px;line-height:15.65px;color:#e74c3c;white-space:pre;left:61.60px;">1084.3</div>
<div style="position:absolute;top:550.22px;font-size:15.65px;line-height:15.65px;color:#e74c3c;white-space:pre;left:143.90px;">-1.5 (-0.14%)</div>
<div style="position:absolute;top:579.94px;font-size:15.65px;line-height:15.65px;color:#2c3e50;white-space:pre;left:14.40px;">SI</div>
<div style="position:absolute;top:579.94px;font-size:15.65px;line-height:15.65px;color:#e74c3c;white-space:pre;left:61.60px;">26.140</div>
<div style="position:absolute;top:579.94px;font-size:15.65px;line-height:15.65px;color:#e74c3c;white-space:pre;left:143.90px;">-0.110 (-0.42%)</div>
<div style="position:absolute;top:609.66px;font-size:15.65px;line-height:15.65px;color:#2c3e50;white-space:pre;left:14.40px;">YM</div>
<div style="position:absolute;top:609.66px;font-size:15.65px;line-height:15.65px;color:#e74c3c;white-space:pre;left:61.60px;">32976</div>
<div style="position:absolute;top:609.66px;font-size:15.65px;line-height:15.65px;color:#e74c3c;white-space:pre;left:143.90px;">-206 (-0.62%)</div>
<div style="position:absolute;top:639.38px;font-size:15.65px;line-height:15.65px;color:#2c3e50;white-space:pre;left:14.40px;">ZB</div>
<div style="position:absolute;top:639.38px;font-size:15.65px;line-height:15.65px;color:#2c3e50;white-space:pre;left:61.60px;">155'6</div>
<div style="position:absolute;top:639.38px;font-size:15.65px;line-height:15.65px;color:#2c3e50;white-space:pre;left:143.90px;">0</div>
<div style="position:absolute;top:669.10px;font-size:15.65px;line-height:15.65px;color:#2c3e50;white-space:pre;left:14.40px;">ZF</div>
<div style="position:absolute;top:669.10px;font-size:15.65px;line-height:15.65px;color:#e74c3c;white-space:pre;left:61.60px;">117'3'7</div>
<div style="position:absolute;top:669.10px;font-size:15.65px;line-height:15.65px;color:#e74c3c;white-space:pre;left:143.90px;">-0'4'2 (-0.11%)</div>
<div style="position:absolute;top:698.82px;font-size:15.65px;line-height:15.65px;color:#2c3e50;white-space:pre;left:14.40px;">ZN</div>
<div style="position:absolute;top:698.82px;font-size:15.65px;line-height:15.65px;color:#e74c3c;white-space:pre;left:61.60px;">126'0'5</div>
<div style="position:absolute;top:698.82px;font-size:15.65px;line-height:15.65px;color:#e74c3c;white-space:pre;left:143.90px;">-0'3'5 (-0.09%)</div>
<div style="position:absolute;top:728.54px;font-size:15.65px;line-height:15.65px;color:#2c3e50;white-space:pre;left:14.40px;">ZT</div>
<div style="position:absolute;top:728.54px;font-size:15.65px;line-height:15.65px;color:#e74c3c;white-space:pre;left:61.60px;">107'0'0</div>
<div style="position:absolute;top:728.54px;font-size:15.65px;line-height:15.65px;color:#e74c3c;white-space:pre;left:143.90px;">-0'2'5 (-0.07%)</div>
<div style="position:absolute;top:758.26px;font-size:15.65px;line-height:15.65px;color:#2c3e50;white-space:pre;left:14.40px;">BTC</div>
<div style="position:absolute;top:758.26px;font-size:15.65px;line-height:15.65px;color:#e74c3c;white-space:pre;left:61.60px;">38270</div>
<div style="position:absolute;top:758.26px;font-size:15.65px;line-height:15.65px;color:#e74c3c;white-space:pre;left:143.90px;">-1080 (-2.74%)</div>
<div style="position:absolute;top:7.18px;font-size:13.2px;line-height:13.2px;color:#3a3f55;white-space:pre;left:1790.40px;transform:translateX(-50%);">market</div>
<div style="position:absolute;top:19.98px;font-size:13.2px;line-height:13.2px;color:#3a3f55;white-space:pre;left:1790.20px;transform:translateX(-50%);">details</div>
<div style="position:absolute;top:61.79px;font-size:14.6px;line-height:14.6px;color:#e74c3c;white-space:pre;right:164.70px;">-1080 (-2.74%)</div>
<div style="position:absolute;top:139.84px;font-size:12.3px;line-height:12.3px;color:#6b6b6b;white-space:pre;left:1760.10px;">42000</div>
<div style="position:absolute;top:298.84px;font-size:12.3px;line-height:12.3px;color:#6b6b6b;white-space:pre;left:1760.10px;">41500</div>
<div style="position:absolute;top:456.84px;font-size:12.3px;line-height:12.3px;color:#6b6b6b;white-space:pre;left:1760.10px;">41000</div>
<div style="position:absolute;top:615.84px;font-size:12.3px;line-height:12.3px;color:#6b6b6b;white-space:pre;left:1760.10px;">40500</div>
<div style="position:absolute;top:773.84px;font-size:12.3px;line-height:12.3px;color:#6b6b6b;white-space:pre;left:1760.10px;">40000</div>
<div style="position:absolute;top:931.84px;font-size:12.3px;line-height:12.3px;color:#6b6b6b;white-space:pre;left:1760.10px;">39500</div>
<div style="position:absolute;top:951.89px;font-size:12px;line-height:12px;color:#fff;white-space:pre;font-weight:bold;left:1760.20px;">38270.00</div>
<div style="position:absolute;top:55.28px;font-size:13.2px;line-height:13.2px;color:#b4b4ac;white-space:pre;left:1874.60px;transform:translateX(-50%);letter-spacing:0.1px;">Settings</div>
<div style="position:absolute;top:123.38px;font-size:13.2px;line-height:13.2px;color:#b4b4ac;white-space:pre;left:1874.60px;transform:translateX(-50%);letter-spacing:0.1px;">Save</div>
<div style="position:absolute;top:223.38px;font-size:13.2px;line-height:13.2px;color:#b4b4ac;white-space:pre;left:1874.60px;transform:translateX(-50%);letter-spacing:0.1px;">Charts</div>
<div style="position:absolute;top:293.48px;font-size:13.2px;line-height:13.2px;color:#b4b4ac;white-space:pre;left:1874.60px;transform:translateX(-50%);letter-spacing:0.1px;">Markets</div>
<div style="position:absolute;top:312.18px;font-size:13.2px;line-height:13.2px;color:#b4b4ac;white-space:pre;left:1874.60px;transform:translateX(-50%);letter-spacing:0.1px;">Pane</div>
<div style="position:absolute;top:381.18px;font-size:13.2px;line-height:13.2px;color:#b4b4ac;white-space:pre;left:1874.60px;transform:translateX(-50%);letter-spacing:0.1px;">Analytics</div>
<div style="position:absolute;top:449.48px;font-size:13.2px;line-height:13.2px;color:#b4b4ac;white-space:pre;left:1874.60px;transform:translateX(-50%);letter-spacing:0.1px;">Hotkeys</div>
<div style="position:absolute;top:518.48px;font-size:13.2px;line-height:13.2px;color:#b4b4ac;white-space:pre;left:1874.60px;transform:translateX(-50%);letter-spacing:0.1px;">Need</div>
<div style="position:absolute;top:536.88px;font-size:13.2px;line-height:13.2px;color:#b4b4ac;white-space:pre;left:1875.20px;transform:translateX(-50%);letter-spacing:0.1px;">Help?</div>
<div style="position:absolute;top:835.28px;font-size:13.2px;line-height:13.2px;color:#b4b4ac;white-space:pre;left:1874.60px;transform:translateX(-50%);letter-spacing:0.1px;">Provide</div>
<div style="position:absolute;top:853.98px;font-size:13.2px;line-height:13.2px;color:#b4b4ac;white-space:pre;left:1877.00px;transform:translateX(-50%);letter-spacing:0.1px;">Feedback</div>
<div style="position:absolute;top:922.28px;font-size:13.2px;line-height:13.2px;color:#b4b4ac;white-space:pre;left:1874.60px;transform:translateX(-50%);letter-spacing:0.1px;">Account</div>
<div style="position:absolute;top:990.28px;font-size:13.2px;line-height:13.2px;color:#b4b4ac;white-space:pre;left:1875.00px;transform:translateX(-50%);letter-spacing:0.1px;">Log Out</div>
<div style="position:absolute;top:1041.36px;font-size:17px;line-height:17px;color:#ffffff;white-space:pre;left:53.30px;letter-spacing:-0.8px;">2022-03-11</div>
<div style="position:absolute;top:1041.36px;font-size:17px;line-height:17px;color:#ffffff;white-space:pre;left:142.60px;letter-spacing:-0.8px;">15:56:00</div>
<div style="position:absolute;top:1033.30px;font-size:14px;line-height:14px;color:#ffffff;white-space:pre;left:338.30px;transform:translateX(-50%);">10</div>
<div style="position:absolute;top:1047.80px;font-size:14px;line-height:14px;color:#ffffff;white-space:pre;left:337.30px;transform:translateX(-50%);">Mar</div>
<div style="position:absolute;top:1033.90px;font-size:14px;line-height:14px;color:#ffffff;white-space:pre;left:1699.30px;transform:translateX(-50%);">11</div>
<div style="position:absolute;top:1047.50px;font-size:14px;line-height:14px;color:#ffffff;white-space:pre;left:1698.90px;transform:translateX(-50%);">Mar</div>
<div style="position:absolute;top:1027.46px;font-size:10.5px;line-height:10.5px;color:#ffffff;white-space:pre;font-weight:bold;left:362.70px;transform:translateX(-50%);">6PM</div>
<div style="position:absolute;top:1027.46px;font-size:10.5px;line-height:10.5px;color:#ffffff;white-space:pre;font-weight:bold;left:1218.75px;transform:translateX(-50%);">9AM</div>
<div style="position:absolute;top:1027.46px;font-size:10.5px;line-height:10.5px;color:#ffffff;white-space:pre;font-weight:bold;left:1618.24px;transform:translateX(-50%);">4PM</div>
<div style="position:absolute;top:1027.46px;font-size:10.5px;line-height:10.5px;color:#ffffff;white-space:pre;font-weight:bold;left:1675.31px;transform:translateX(-50%);">5PM</div>
<div style="position:absolute;top:1040.66px;font-size:17px;line-height:17px;color:#ffffff;white-space:pre;left:1746.30px;letter-spacing:-0.8px;">1 min per second</div>
</body></html>
